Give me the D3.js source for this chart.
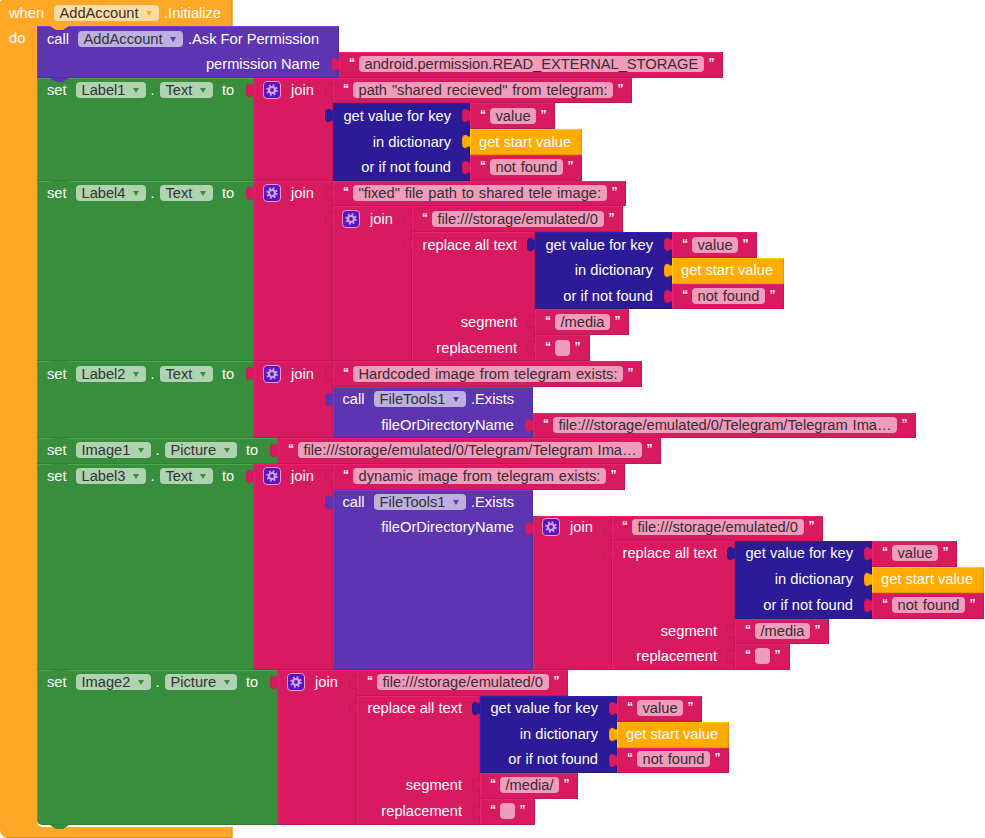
<!DOCTYPE html>
<html><head><meta charset="utf-8">
<script src="https://cdn.jsdelivr.net/npm/d3@7"></script>
<style>html,body{margin:0;padding:0;background:#fff;overflow:hidden}svg{display:block}text{font-family:"Liberation Sans",Arial,sans-serif;font-size:14.67px}</style>
</head><body><svg id="c" width="985" height="838"></svg>
<script>
const eventComponent = "AddAccount";
const eventName = ".Initialize";
const permissionPath = "android.permission.READ_EXTERNAL_STORAGE";
const setTargets = ["Label1","Label4","Label2","Image1","Label3","Image2"];
const setProps = ["Text","Text","Text","Picture","Text","Picture"];
const headingTexts = ['path "shared recieved" from telegram:','"fixed" file path to shared tele image:','Hardcoded image from telegram exists:','dynamic image from telegram exists:'];
const filePrefix = "file:///storage/emulated/0";
const hardcodedPath = "file:///storage/emulated/0/Telegram/Telegram Ima…";
const segments = ["/media","/media","/media/"];
const palette = {event:"#FFA726",call:"#5E35B1",set:"#388E3C",text:"#D81B60",dict:"#2C1A96",get:"#FFAB00"};

const svg = d3.select("#c");
const gRoot = svg.append("g");
const ROW = 25.77;
const FIELD_WS = "0.8px";
const meas = svg.append("text").attr("visibility","hidden");
const tw = s => { meas.style("word-spacing",null).text(s); return meas.node().getComputedTextLength(); };
const twField = s => { meas.style("word-spacing",FIELD_WS).text(s); return meas.node().getComputedTextLength(); };

const T = s => ({k:"text",s});
const D = () => ({k:"dict"});
const J = (...v) => ({k:"join",v});
const R = (seg) => ({k:"replace",seg});
const Exists = (v) => ({k:"exists",v});
const S = (i,v) => ({k:"set",target:setTargets[i],prop:setProps[i],v});

const tree = [
  {k:"askcall",v:T(permissionPath)},
  S(0,J(T(headingTexts[0]),D())),
  S(1,J(T(headingTexts[1]),J(T(filePrefix),R(segments[0])))),
  S(2,J(T(headingTexts[2]),Exists(T(hardcodedPath)))),
  S(3,T(hardcodedPath)),
  S(4,J(T(headingTexts[3]),Exists(J(T(filePrefix),R(segments[1]))))),
  S(5,J(T(filePrefix),R(segments[2])))
];
function rows(n){
  switch(n.k){
    case "text": case "get": return 1;
    case "dict": return 3;
    case "replace": return 5;
    case "join": return d3.sum(n.v,rows);
    case "exists": return 1+rows(n.v);
    case "set": return rows(n.v);
    case "askcall": return 2;
  }
}
const Y = r => Math.round(r);
// integer vertical centre of the row that starts at r
const rc = r => Math.round(r + (r<430 ? 12.5 : 11.8));
const tabD = (x,y) => `M${x},${y+18}c-1,-2 -3,1 -5,1c-3,0 -3,-4 -3,-6.5c0,-2.5 0,-6.5 3,-6.5c2,0 4,3 5,1`;
function rect(x,y0,w,y1,color,opts={}){
  const g = gRoot.append("g");
  const dark = d3.color(color).darker(0.55), light = d3.color(color).brighter(0.9);
  const r = opts.rounded ? 5 : 0;
  let d = `M${x},${y0}H${x+w}V${y1}H${x+r}`;
  if(r) d += `a${r},${r} 0 0 1 ${-r},${-r}`;
  d += "Z";
  g.append("path").attr("d",d).attr("fill",color);
  if(opts.tab) g.append("path").attr("d",tabD(x,y0)+"Z").attr("fill",color);
  g.append("path").attr("d",`M${x+0.5},${y1-0.5-r}V${y0+0.5}H${x+w-0.5}`).attr("fill","none").attr("stroke",light).attr("stroke-opacity",.55);
  g.append("path").attr("d",`M${x+w-0.5},${y0+0.5}V${y1-0.5}H${x+r}`).attr("fill","none").attr("stroke",dark).attr("stroke-opacity",.6);
  if(opts.tab) g.append("path").attr("d",tabD(x+0.5,y0)).attr("fill","none").attr("stroke",dark).attr("stroke-opacity",.4);
}
function notch(x,y,color){
  gRoot.append("path").attr("d",`M${x+13},${y}l6,4h7l6,-4Z`).attr("fill",color);
}
function label(x,c,s,anchor="start",fill="#fff"){
  return gRoot.append("text").attr("x",x).attr("y",c+5).attr("fill",fill).attr("text-anchor",anchor).text(s);
}
const pillW = s => Math.floor(tw(s)+26.9);
function pill(x,c,s,fill,arrow){
  const w = pillW(s);
  gRoot.append("rect").attr("x",x).attr("y",c-8).attr("width",w).attr("height",16).attr("rx",4).attr("fill",fill);
  label(x+5.5,c,s,"start","#333");
  gRoot.append("path").attr("d",`M${x+w-13},${c-2}h6l-3,5Z`).attr("fill",arrow);
  return w;
}
function quote(x,c,s){
  gRoot.append("text").attr("x",x).attr("y",c+3).attr("fill","#fff").style("font-size","12px").style("font-weight","bold").text(s);
}
function drawText(n,x,y){
  const tx=twField(n.s), w=Math.round(n.s?tx+50:55), pw=n.s?Math.round(tx+11):15;
  const y0=Y(y), y1=Y(y+ROW), c=rc(y);
  rect(x,y0,w,y1,palette.text,{tab:true});
  quote(x+10,c,"“");
  gRoot.append("rect").attr("x",x+20).attr("y",c-8).attr("width",pw).attr("height",16).attr("rx",4).attr("fill","#EF9DBB");
  if(n.s) label(x+25.5,c,n.s,"start","#3a2a33").style("word-spacing",FIELD_WS);
  quote(x+20+pw+4.5,c,"”");
}
function drawGet(x,y){
  rect(x,Y(y),112,Y(y+ROW),palette.get,{tab:true});
  label(x+9,rc(y),"get start value");
}
function drawDict(x,y){
  const y0=Y(y),y1=Y(y+3*ROW),w=137;
  rect(x,y0,w,y1,palette.dict,{tab:true});
  ["get value for key","in dictionary","or if not found"].forEach((s,i)=>label(x+w-19,rc(y+i*ROW),s,"end"));
  drawText(T("value"),x+w,y);
  drawGet(x+w,y+ROW);
  drawText(T("not found"),x+w,y+2*ROW);
}
function drawReplace(n,x,y){
  const w=123,y0=Y(y),y1=Y(y+5*ROW);
  rect(x,y0,w,y1,palette.text,{tab:true});
  label(x+w-18,rc(y),"replace all text","end");
  label(x+w-18,rc(y+3*ROW),"segment","end");
  label(x+w-18,rc(y+4*ROW),"replacement","end");
  drawDict(x+w,y);
  drawText(T(n.seg),x+w,y+3*ROW);
  drawText(T(""),x+w,y+4*ROW);
}
function drawJoin(n,x,y){
  const w=79,y0=Y(y),y1=Y(y+rows(n)*ROW);
  rect(x,y0,w,y1,palette.text,{tab:true});
  const c=rc(y);
  gRoot.append("rect").attr("x",x+9.5).attr("y",c-8.5).attr("width",17).attr("height",17).attr("rx",3.5).attr("fill","#5A14C0").attr("stroke","#EE9AC8");
  const gc=gRoot.append("g").attr("transform",`translate(${x+18},${c})`).attr("fill","none").attr("stroke","#CFA2EE");
  gc.append("circle").attr("r",3).attr("stroke-width",2.2);
  gc.append("circle").attr("r",4.8).attr("stroke-width",1.8).attr("stroke-dasharray","1.9 1.87");
  label(x+37,c,"join");
  let ry=y;
  n.v.forEach(ch=>{ drawValue(ch,x+w,ry); ry+=rows(ch)*ROW; });
}
function drawExists(n,x,y){
  const w=200,y0=Y(y),y1=Y(y+rows(n)*ROW),c=rc(y);
  rect(x,y0,w,y1,palette.call,{tab:true});
  label(x+9.5,c,"call");
  const pw=pill(x+41,c,"FileTools1","#BDB0E0",palette.call);
  label(x+41+pw+5,c,".Exists");
  label(x+w-19,rc(y+ROW),"fileOrDirectoryName","end");
  drawValue(n.v,x+w,y+ROW);
}
function drawValue(n,x,y){
  switch(n.k){
    case "text": return drawText(n,x,y);
    case "join": return drawJoin(n,x,y);
    case "dict": return drawDict(x,y);
    case "replace": return drawReplace(n,x,y);
    case "exists": return drawExists(n,x,y);
  }
}
// Event shell
const stackX=37, stackTop=26;
const totalRows=d3.sum(tree,rows);
const bottom=Y(stackTop+totalRows*ROW);
const barTop=bottom+2, shellW=232.5;
gRoot.append("path").attr("d",`M0,3a3,3 0 0 1 3,-3H${shellW}V26H${stackX}V${barTop-6}a6,6 0 0 0 6,6H${shellW}V838H8a8,8 0 0 1 -8,-8Z`).attr("fill",palette.event);
gRoot.append("path").attr("d",`M${shellW-0.5},0V26M${shellW-0.5},${barTop}V837.5H6`).attr("fill","none").attr("stroke","#C9851C").attr("stroke-opacity",.7);
label(9,13,"when");
const ep=pill(54,13,eventComponent,"#FFDCA6",palette.event);
label(54+ep+5,13,eventName);
label(9,38,"do");

let r=stackTop;
const notches=[];
tree.forEach((b,i)=>{
  const n=rows(b),y0=Y(r),y1=Y(r+n*ROW),c=rc(r);
  if(b.k==="askcall"){
    const w=302;
    rect(stackX,y0,w,y1,palette.call);
    label(stackX+10,c,"call");
    const pw=pill(stackX+41,c,eventComponent,"#BDB0E0",palette.call);
    label(stackX+41+pw+5,c,".Ask For Permission");
    label(stackX+w-19,rc(r+ROW),"permission Name","end");
    drawValue(b.v,stackX+w,r+ROW);
    notches.push([y1,palette.call]);
  } else {
    const last=i===tree.length-1;
    const w=39+pillW(b.target)+14+pillW(b.prop)+41;
    rect(stackX,y0,w,y1,palette.set,{rounded:last});
    label(stackX+10,c,"set");
    let px=stackX+39;
    px+=pill(px,c,b.target,"#AFD2B1",palette.set);
    label(px+4.5,c,".");
    px+=14;
    px+=pill(px,c,b.prop,"#AFD2B1",palette.set);
    label(px+9,c,"to");
    drawValue(b.v,stackX+w,r);
    notches.push([y1,palette.set]);
  }
  r+=n*ROW;
});
notches.forEach(([y,c])=>notch(stackX,y,c));
notch(stackX,26,palette.event);
</script></body></html>
